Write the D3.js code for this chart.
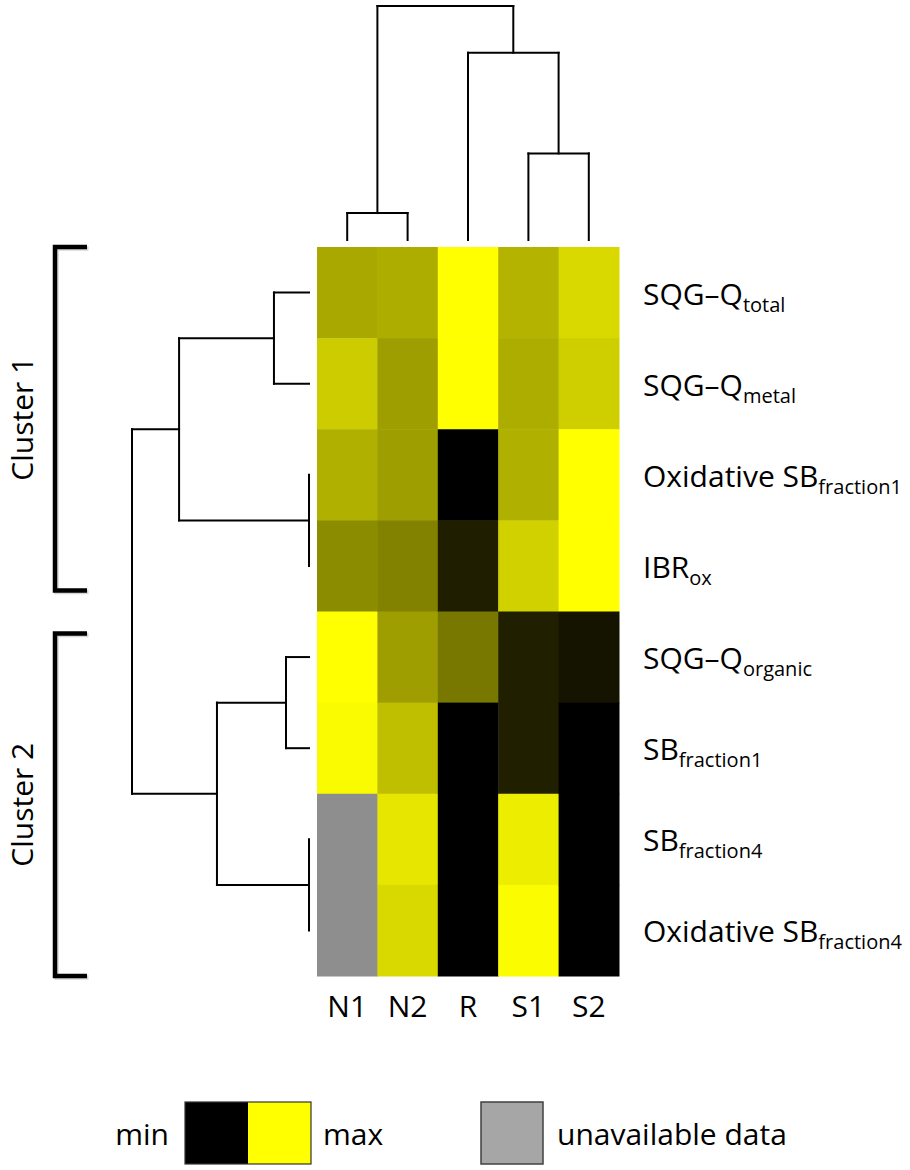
<!DOCTYPE html>
<html>
<head>
<meta charset="utf-8">
<script src="https://cdn.jsdelivr.net/npm/d3@7"></script>
<style>
  html, body { margin: 0; padding: 0; background: #fff; }
  svg { display: block; }
  text { font-family: "Open Sans", "Noto Sans", sans-serif; fill: #000; }
</style>
</head>
<body>
<svg id="chart" width="910" height="1170"></svg>
<script>
// ---------------- data ----------------
const columns = ["N1", "N2", "R", "S1", "S2"];
const rowMain = ["SQG–Q", "SQG–Q", "Oxidative SB", "IBR", "SQG–Q", "SB", "SB", "Oxidative SB"];
const rowSub  = ["total", "metal", "fraction1", "ox", "organic", "fraction1", "fraction4", "fraction4"];

// scaled values (0 = min, 1 = max, null = unavailable), one array per column, rows top→bottom
const valuesN1 = [0.66, 0.80, 0.69, 0.55, 1.00, 0.98, null, null];
const valuesN2 = [0.68, 0.62, 0.62, 0.51, 0.62, 0.75, 0.90, 0.85];
const valuesR  = [1.00, 1.00, 0.00, 0.12, 0.47, 0.00, 0.00, 0.00];
const valuesS1 = [0.70, 0.68, 0.69, 0.82, 0.125, 0.125, 0.93, 0.99];
const valuesS2 = [0.85, 0.81, 1.00, 1.00, 0.08, 0.00, 0.00, 0.00];
const columnValues = [valuesN1, valuesN2, valuesR, valuesS1, valuesS2];

// hclust-style merges: negative = leaf (1-based), positive = earlier merge (1-based); third = height
const colMerge = [[-1, -2, 1.15], [-4, -5, 3.7], [-3, 2, 8.0], [1, 3, 10]];
const rowMerge = [[-1, -2, 1.98], [-3, -4, 0], [1, 2, 7.34], [-5, -6, 1.30], [-7, -8, 0], [4, 5, 5.20], [3, 6, 10]];

const clusterNames = ["Cluster 1", "Cluster 2"];
const clusterRows = [[0, 3], [4, 7]];

const legendMin = "min", legendMax = "max", legendNA = "unavailable data";

// ---------------- layout ----------------
const svg = d3.select("#chart");
const FONT = 30, SUB = 20;

const x = d3.scaleBand().domain(columns).range([317, 619]).padding(0);
const rowIdx = d3.range(rowMain.length);
const y = d3.scaleBand().domain(rowIdx).range([247, 976]).padding(0);

const color = d3.scaleLinear().domain([0, 1]).range(["#000000", "#ffff00"]).interpolate(d3.interpolateRgb);
const naColor = "#8e8e8e";

// ---------------- heatmap ----------------
const cells = [];
columns.forEach((c, ci) => columnValues[ci].forEach((v, ri) => cells.push({ c, r: ri, v })));

svg.append("g").selectAll("rect").data(cells).join("rect")
  .attr("x", d => x(d.c))
  .attr("y", d => y(d.r))
  .attr("width", x.bandwidth() + 0.5)
  .attr("height", y.bandwidth() + 0.5)
  .attr("fill", d => d.v === null ? naColor : color(d.v));

// ---------------- dendrogram helper ----------------
function dendro(merges, leafPos, hScale, orient) {
  const pos = [], hgt = [];
  const getPos = k => k < 0 ? leafPos(-k - 1) : pos[k - 1];
  const getH = k => k < 0 ? 0 : hgt[k - 1];
  const segs = [];
  merges.forEach((m, i) => {
    const [a, b, h] = m;
    const pa = getPos(a), pb = getPos(b);
    const ha = getH(a), hb = getH(b);
    pos[i] = (pa + pb) / 2;
    hgt[i] = h;
    segs.push([pa, ha, pa, h]);
    segs.push([pb, hb, pb, h]);
    segs.push([pa, h, pb, h]);
  });
  const g = svg.append("g").attr("stroke", "#000").attr("stroke-width", 2).attr("fill", "none")
    .attr("stroke-linecap", "square");
  g.selectAll("line").data(segs.filter(s => !(s[0] === s[2] && s[1] === s[3]))).join("line")
    .each(function (s) {
      const el = d3.select(this);
      if (orient === "top") {
        el.attr("x1", s[0]).attr("y1", hScale(s[1])).attr("x2", s[2]).attr("y2", hScale(s[3]));
      } else {
        el.attr("y1", s[0]).attr("x1", hScale(s[1])).attr("y2", s[2]).attr("x2", hScale(s[3]));
      }
    });
}

// top (columns)
const hTop = d3.scaleLinear().domain([0, 10]).range([240, 6]);
dendro(colMerge, i => x(columns[i]) + x.bandwidth() / 2, hTop, "top");

// left (rows)
const hLeft = d3.scaleLinear().domain([0, 10]).range([309, 132]);
dendro(rowMerge, i => y(i) + y.bandwidth() / 2, hLeft, "left");

// ---------------- row labels ----------------
const rl = svg.append("g").selectAll("text").data(rowIdx).join("text")
  .attr("x", 643)
  .attr("y", d => y(d) + y.bandwidth() / 2 + 12)
  .attr("font-size", FONT);
rl.append("tspan").text(d => rowMain[d]);
rl.append("tspan").attr("font-size", SUB).attr("dy", 7).text(d => rowSub[d]);

// ---------------- column labels ----------------
svg.append("g").selectAll("text").data(columns).join("text")
  .attr("x", d => x(d) + x.bandwidth() / 2)
  .attr("y", 1017)
  .attr("text-anchor", "middle")
  .attr("font-size", FONT)
  .text(d => d);

// ---------------- cluster brackets ----------------
const inset = 21;
clusterNames.forEach((name, i) => {
  const [r0, r1] = clusterRows[i];
  let top = y(r0), bot = y(r1) + y.bandwidth();
  if (i > 0) top += inset + 1;
  if (i < clusterNames.length - 1) bot -= inset;
  const bx = 55, arm = 87;
  const path = `M${arm},${top}H${bx}V${bot}H${arm}`;
  svg.append("path").attr("d", path).attr("fill", "none")
    .attr("stroke", "#bbb").attr("stroke-width", 4.5).attr("transform", "translate(1.5,1.5)").attr("opacity", 0.6);
  svg.append("path").attr("d", path).attr("fill", "none")
    .attr("stroke", "#000").attr("stroke-width", 4.5);
  svg.append("text")
    .attr("transform", `translate(33,${(top + bot) / 2}) rotate(-90)`)
    .attr("text-anchor", "middle")
    .attr("font-size", FONT)
    .text(name);
});

// ---------------- legend ----------------
const lg = svg.append("g");
const ly = 1102, lh = 62, lb = 1145;
lg.append("text").attr("x", 169).attr("y", lb).attr("text-anchor", "end").attr("font-size", FONT).text(legendMin);
lg.append("rect").attr("x", 185).attr("y", ly).attr("width", 63).attr("height", lh).attr("fill", color(0));
lg.append("rect").attr("x", 248).attr("y", ly).attr("width", 63).attr("height", lh).attr("fill", color(1));
lg.append("rect").attr("x", 185).attr("y", ly).attr("width", 126).attr("height", lh)
  .attr("fill", "none").attr("stroke", "#333").attr("stroke-width", 1.2);
lg.append("text").attr("x", 323).attr("y", lb).attr("font-size", FONT).text(legendMax);
lg.append("rect").attr("x", 481).attr("y", ly).attr("width", 62).attr("height", lh)
  .attr("fill", "#a6a6a6").attr("stroke", "#404040").attr("stroke-width", 1.5);
lg.append("text").attr("x", 557).attr("y", lb).attr("font-size", FONT).text(legendNA);
</script>
</body>
</html>
